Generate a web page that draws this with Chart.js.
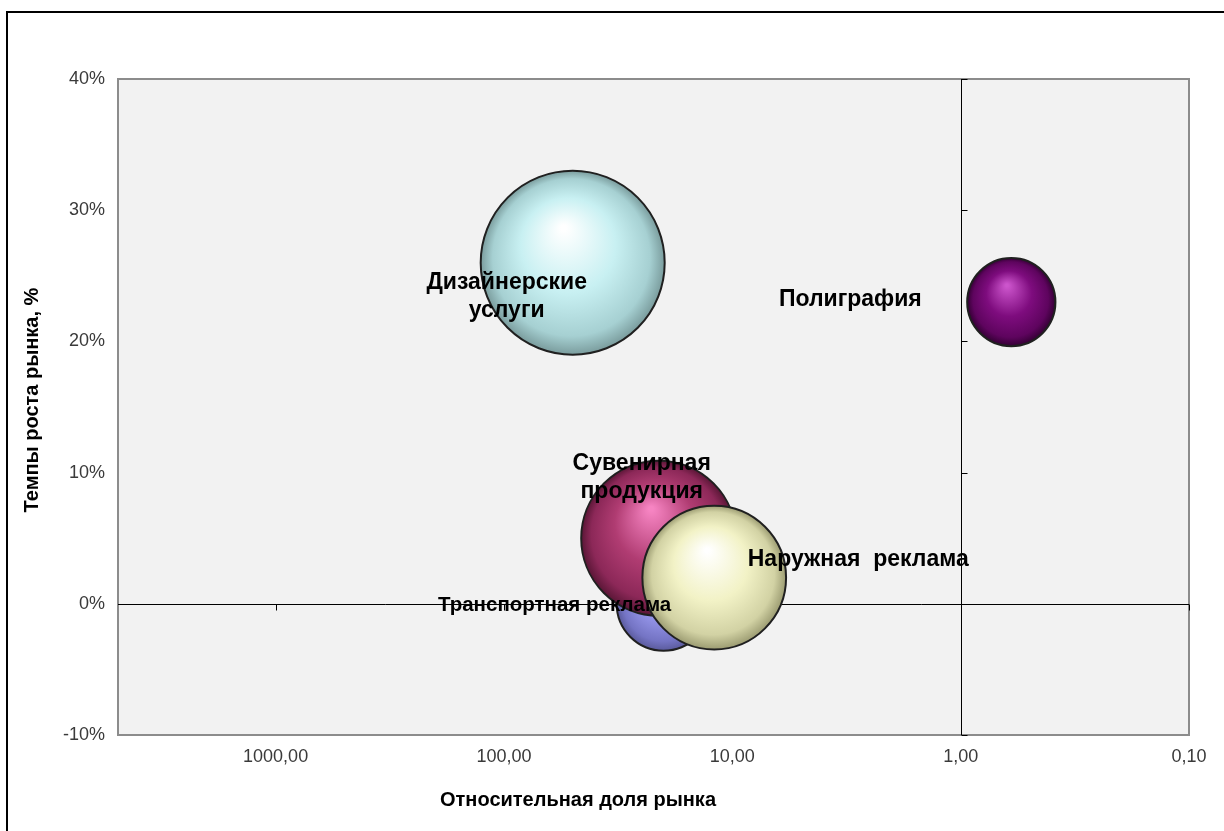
<!DOCTYPE html>
<html lang="ru">
<head>
<meta charset="utf-8">
<title>Темпы роста рынка / относительная доля рынка</title>
<script src="https://cdn.jsdelivr.net/npm/chart.js@4.4.1/dist/chart.umd.min.js"></script>
<style>
  html, body { margin: 0; padding: 0; background: #fff; }
  canvas { display: block; }
</style>
</head>
<body>
<canvas id="bcgChart" width="1224" height="831"></canvas>
<script>
const categories = ['Транспортная реклама', 'Сувенирная\nпродукция', 'Наружная  реклама', 'Дизайнерские\nуслуги', 'Полиграфия'];
const relativeShare = [20, 21, 12, 50, 0.6];     // относительная доля рынка
const marketGrowth = [0, 5, 2, 26, 23];          // темпы роста, %
const marketVolume = [26, 71, 61, 100, 23];      // размер пузырька (объём)
const xTicks = [1000, 100, 10, 1, 0.1];
const yTicks = [-10, 0, 10, 20, 30, 40];

// оформление
const fontFamily = "'Liberation Sans', Arial, sans-serif";
const maxRadius = 92;
// [блик, основной, тень, край]
const palette = [
    ['#c4c4ff', '#9494e8', '#7474c4', '#5a5a9c'],
    ['#f684c2', '#b03c72', '#8c2858', '#5a1636'],
    ['#ffffff', '#f2f2c6', '#d2d2a4', '#9c9c72'],
    ['#ffffff', '#c8f0f2', '#a6d0d2', '#7a9c9d'],
    ['#cc55cc', '#7e0c7e', '#5e045e', '#340034']
];
// смещение подписи от центра пузырька, px
const labelOffsets = [[-109, 2], [-17, -75], [144, -18], [-66, 20], [-161, -2]];
const labelSizes = [20.5, 23, 23, 23, 23];

function sphereFill(c) {
    const chart = c.chart;
    const xs = chart.scales.x;
    const ys = chart.scales.y;
    if (c.type !== 'data' || !xs || !ys || !c.raw) {
        return palette[0][1];
    }
    const col = palette[c.dataIndex];
    const cx = xs.getPixelForValue(c.raw.x);
    const cy = ys.getPixelForValue(c.raw.y);
    const r = c.raw.r;
    if (!isFinite(cx) || !isFinite(cy) || !isFinite(r)) {
        return col[1];
    }
    const g = chart.ctx.createRadialGradient(cx - 0.1 * r, cy - 0.38 * r, r * 0.03, cx, cy, r);
    g.addColorStop(0, col[0]);
    g.addColorStop(0.5, col[1]);
    g.addColorStop(0.85, col[2]);
    g.addColorStop(1, col[3]);
    return g;
}

const bubbles = categories.map((name, i) => ({
    x: relativeShare[i],
    y: marketGrowth[i],
    r: maxRadius * Math.sqrt(marketVolume[i] / Math.max(...marketVolume))
}));

const framePlugin = {
    id: 'frame',
    beforeDraw(chart) {
        const ctx = chart.ctx;
        const a = chart.chartArea;
        ctx.save();
        ctx.fillStyle = '#fff';
        ctx.fillRect(0, 0, chart.width, chart.height);
        ctx.strokeStyle = '#000';
        ctx.lineWidth = 2;
        ctx.beginPath();
        ctx.moveTo(7, chart.height);
        ctx.lineTo(7, 12);
        ctx.lineTo(chart.width, 12);
        ctx.stroke();
        ctx.fillStyle = '#f2f2f2';
        ctx.fillRect(a.left, a.top, a.width, a.height);
        ctx.strokeStyle = '#8c8c8c';
        ctx.strokeRect(a.left, a.top, a.width, a.height);
        ctx.restore();
    },
    beforeDatasetsDraw(chart) {
        const ctx = chart.ctx;
        const a = chart.chartArea;
        const x = chart.scales.x;
        const y = chart.scales.y;
        const x1 = Math.round(x.getPixelForValue(1)) + 0.5;
        const y0 = Math.round(y.getPixelForValue(0)) + 0.5;
        ctx.save();
        ctx.strokeStyle = '#000';
        ctx.lineWidth = 1;
        ctx.beginPath();
        ctx.moveTo(x1, a.top);
        ctx.lineTo(x1, a.bottom);
        ctx.moveTo(a.left, y0);
        ctx.lineTo(a.right, y0);
        yTicks.forEach(v => {
            const py = Math.round(y.getPixelForValue(v)) + 0.5;
            ctx.moveTo(x1, py);
            ctx.lineTo(x1 + 6, py);
        });
        xTicks.forEach(v => {
            const px = Math.round(x.getPixelForValue(v)) + 0.5;
            ctx.moveTo(px, y0);
            ctx.lineTo(px, y0 + 6);
        });
        ctx.stroke();
        ctx.restore();
    },
    afterDatasetsDraw(chart) {
        const ctx = chart.ctx;
        const meta = chart.getDatasetMeta(0);
        ctx.save();
        ctx.fillStyle = '#000';
        ctx.textAlign = 'center';
        ctx.textBaseline = 'middle';
        categories.forEach((name, i) => {
            const el = meta.data[i];
            ctx.font = 'bold ' + labelSizes[i] + 'px ' + fontFamily;
            const lines = name.split('\n');
            lines.forEach((line, k) => {
                ctx.fillText(line, el.x + labelOffsets[i][0], el.y + labelOffsets[i][1] + k * 28);
            });
        });
        ctx.restore();
    },
    afterDraw(chart) {
        const ctx = chart.ctx;
        ctx.save();
        ctx.fillStyle = '#000';
        ctx.font = 'bold 20px ' + fontFamily;
        ctx.textAlign = 'center';
        ctx.textBaseline = 'middle';
        ctx.fillText('Относительная доля рынка', 578, 800);
        ctx.translate(32, 400);
        ctx.rotate(-Math.PI / 2);
        ctx.fillText('Темпы роста рынка, %', 0, 0);
        ctx.restore();
    }
};

const chart = new Chart(document.getElementById('bcgChart'), {
    type: 'bubble',
    data: {
        datasets: [{
            data: bubbles,
            backgroundColor: sphereFill,
            borderColor: '#202020',
            borderWidth: 2
        }]
    },
    options: {
        responsive: false,
        animation: false,
        events: [],
        layout: { autoPadding: false, padding: { top: 79, right: 35, left: 0, bottom: 0 } },
        plugins: { legend: { display: false }, tooltip: { enabled: false } },
        scales: {
            x: {
                type: 'logarithmic',
                reverse: true,
                min: 0.1,
                max: 4900,
                afterBuildTicks: s => { s.ticks = xTicks.map(v => ({ value: v })); },
                afterFit: s => { s.height = 96; },
                grid: { display: false },
                border: { display: false },
                ticks: {
                    autoSkip: false,
                    maxRotation: 0,
                    padding: 3,
                    color: '#3a3a3a',
                    font: { family: fontFamily, size: 18 },
                    callback: v => Number(v).toFixed(2).replace('.', ',')
                }
            },
            y: {
                min: -10,
                max: 40,
                afterBuildTicks: s => { s.ticks = yTicks.map(v => ({ value: v })); },
                afterFit: s => { s.width = 118; },
                grid: { display: false },
                border: { display: false },
                ticks: {
                    padding: 5,
                    color: '#3a3a3a',
                    font: { family: fontFamily, size: 18 },
                    callback: v => v + '%'
                }
            }
        }
    },
    plugins: [framePlugin]
});
</script>
</body>
</html>
